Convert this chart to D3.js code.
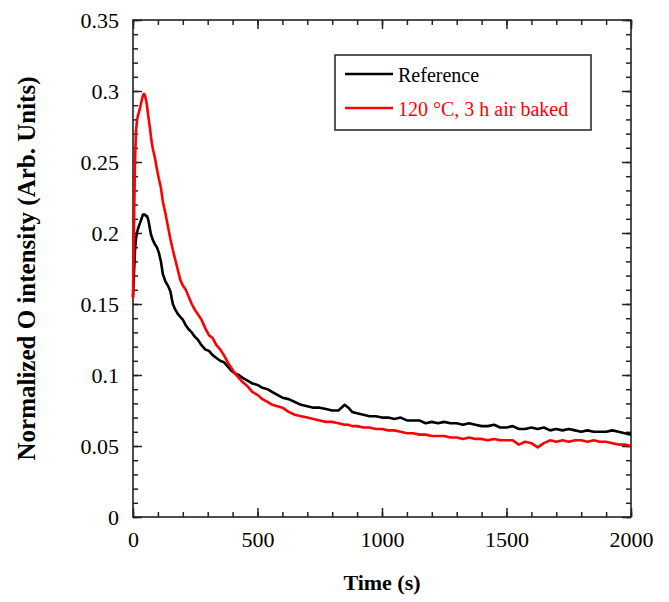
<!DOCTYPE html>
<html lang="en">
<head>
    <meta charset="UTF-8">
    <title>Normalized O intensity vs time</title>
    <script src="https://d3js.org/d3.v7.min.js"></script>
    <style>
        body { margin: 0; background: #fff; }
        text { font-family: "Liberation Serif", "Times New Roman", serif; }
    </style>
</head>
<body>
    <div id="chart"></div>

    <script>
        // time axis (s), shared by both series
        const times = [0,4,8,12,16,20,24,28,32,36,40,44,48,52,56,60,64,68,72,76,80,
            88,96,104,112,120,
            130,140,150,160,170,180,190,200,
            212,224,236,248,260,
            275,290,305,320,335,350,365,380,395,410,425,440,
            460,480,500,520,540,560,580,600,
            625,650,675,700,725,750,775,800,825,850,
            865,880,
            900,925,950,975,1000,
            1025,1050,1075,1100,1125,1150,1175,1200,1225,1250,
            1275,1300,1325,1350,1375,1400,1425,1450,1475,1500,
            1525,1550,1575,1600,1625,1650,1675,1700,1725,1750,
            1775,1800,1825,1850,1875,1900,1925,1950,1975,2000];

        const reference = [0.155,0.172,0.188,0.196,0.200,0.203,0.205,0.207,0.209,0.211,0.213,0.213,0.213,0.212,0.212,0.210,0.207,0.203,0.199,0.197,0.195,
            0.192,0.190,0.186,0.180,0.171,
            0.166,0.163,0.159,0.150,0.146,0.143,0.141,0.139,
            0.135,0.132,0.130,0.127,0.125,
            0.121,0.118,0.117,0.114,0.112,0.110,0.109,0.106,0.103,0.101,0.100,0.098,
            0.096,0.094,0.093,0.091,0.090,0.088,0.086,0.084,
            0.083,0.081,0.079,0.078,0.077,0.077,0.076,0.075,0.075,0.079,
            0.077,0.074,
            0.073,0.072,0.071,0.071,0.070,
            0.070,0.069,0.070,0.068,0.068,0.068,0.066,0.067,0.066,0.067,
            0.066,0.066,0.065,0.066,0.065,0.064,0.064,0.065,0.063,0.063,
            0.064,0.062,0.062,0.063,0.062,0.063,0.061,0.062,0.061,0.062,
            0.061,0.060,0.061,0.060,0.060,0.060,0.061,0.060,0.059,0.058];

        const airBaked = [0.154,0.205,0.250,0.272,0.279,0.283,0.285,0.288,0.291,0.294,0.297,0.298,0.297,0.294,0.290,0.284,0.279,0.274,0.268,0.263,0.259,
            0.253,0.245,0.238,0.232,0.222,
            0.214,0.205,0.196,0.188,0.181,0.174,0.167,0.163,
            0.160,0.155,0.150,0.146,0.143,
            0.139,0.133,0.128,0.126,0.121,0.118,0.114,0.109,0.105,0.101,0.098,0.095,
            0.092,0.088,0.086,0.083,0.081,0.079,0.078,0.077,
            0.074,0.072,0.071,0.070,0.069,0.068,0.067,0.067,0.066,0.065,
            0.065,0.064,
            0.064,0.063,0.063,0.062,0.062,
            0.061,0.061,0.060,0.059,0.059,0.058,0.058,0.057,0.057,0.057,
            0.056,0.056,0.055,0.056,0.055,0.055,0.054,0.055,0.054,0.054,
            0.054,0.051,0.053,0.052,0.049,0.052,0.054,0.053,0.054,0.053,
            0.054,0.054,0.053,0.054,0.053,0.053,0.052,0.051,0.051,0.050];

        const seriesNames = ["Reference", "120 \u00B0C, 3 h air baked"];
        const seriesColors = ["#000000", "#ff0000"];

        const xTicks = [0, 500, 1000, 1500, 2000];
        const xMinorTicks = d3.range(0, 2001, 100);
        const yTicks = [0, 0.05, 0.1, 0.15, 0.2, 0.25, 0.3, 0.35];
        const yMinorTicks = d3.range(0, 36).map(i => i / 100);

        const margin = {top: 20, right: 38, bottom: 85, left: 133},
              width = 669 - margin.left - margin.right,
              height = 602 - margin.top - margin.bottom;

        const svg = d3.select("#chart")
            .append("svg")
            .attr("width", 669)
            .attr("height", 602)
            .style("background", "#fff");

        const g = svg.append("g")
            .attr("transform", `translate(${margin.left},${margin.top})`);

        const x = d3.scaleLinear().domain([0, 2000]).range([0, width]);
        const y = d3.scaleLinear().domain([0, 0.35]).range([height, 0]);

        // ticks on all four sides, pointing inward
        function ticks(axis, values, size, labels) {
            return axis.tickValues(values)
                .tickSizeInner(-size)
                .tickSizeOuter(0)
                .tickPadding(labels ? 14 : 0)
                .tickFormat(labels ? (d => String(d)) : "");
        }

        const axes = [
            {a: ticks(d3.axisBottom(x), xMinorTicks, 5, false), t: `translate(0,${height})`},
            {a: ticks(d3.axisBottom(x), xTicks, 9, true), t: `translate(0,${height})`},
            {a: ticks(d3.axisTop(x), xMinorTicks, 5, false), t: null},
            {a: ticks(d3.axisTop(x), xTicks, 9, false), t: null},
            {a: ticks(d3.axisLeft(y), yMinorTicks, 5, false), t: null},
            {a: ticks(d3.axisLeft(y), yTicks, 9, true), t: null},
            {a: ticks(d3.axisRight(y), yMinorTicks, 5, false), t: `translate(${width},0)`},
            {a: ticks(d3.axisRight(y), yTicks, 9, false), t: `translate(${width},0)`}
        ];

        axes.forEach(ax => {
            const sel = g.append("g").call(ax.a);
            if (ax.t) sel.attr("transform", ax.t);
            sel.select(".domain").remove();
            sel.selectAll("line").attr("stroke", "#222").attr("stroke-width", 1.5);
            sel.selectAll("text")
                .style("font-size", "22px")
                .style("font-family", "'Liberation Serif', serif")
                .attr("fill", "#000");
        });

        // plot frame
        g.append("rect")
            .attr("width", width)
            .attr("height", height)
            .attr("fill", "none")
            .attr("stroke", "#222")
            .attr("stroke-width", 1.6);

        const line = values => d3.line()
            .x((d, i) => x(times[i]))
            .y(d => y(d))(values);

        [reference, airBaked].forEach((vals, k) => {
            g.append("path")
                .attr("d", line(vals))
                .attr("fill", "none")
                .attr("stroke", seriesColors[k])
                .attr("stroke-width", 2.6)
                .attr("stroke-linejoin", "round");
        });

        // axis titles
        svg.append("text")
            .attr("x", margin.left + width / 2)
            .attr("y", 590)
            .attr("text-anchor", "middle")
            .style("font-size", "22px")
            .style("font-weight", "bold")
            .text("Time (s)");

        svg.append("text")
            .attr("transform", `translate(35,${margin.top + height / 2}) rotate(-90)`)
            .attr("text-anchor", "middle")
            .style("font-size", "25px")
            .style("font-weight", "bold")
            .text("Normalized O intensity (Arb. Units)");

        // legend
        const legend = svg.append("g").attr("transform", "translate(335,55)");
        legend.append("rect")
            .attr("width", 256)
            .attr("height", 75)
            .attr("fill", "#fff")
            .attr("stroke", "#222")
            .attr("stroke-width", 1.5);

        seriesNames.forEach((name, k) => {
            const yy = 19 + k * 34;
            legend.append("line")
                .attr("x1", 10).attr("x2", 58)
                .attr("y1", yy).attr("y2", yy)
                .attr("stroke", seriesColors[k])
                .attr("stroke-width", 2.6);
            legend.append("text")
                .attr("x", 63)
                .attr("y", yy + 8)
                .attr("fill", seriesColors[k])
                .style("font-size", "20px")
                .text(name);
        });
    </script>
</body>
</html>
